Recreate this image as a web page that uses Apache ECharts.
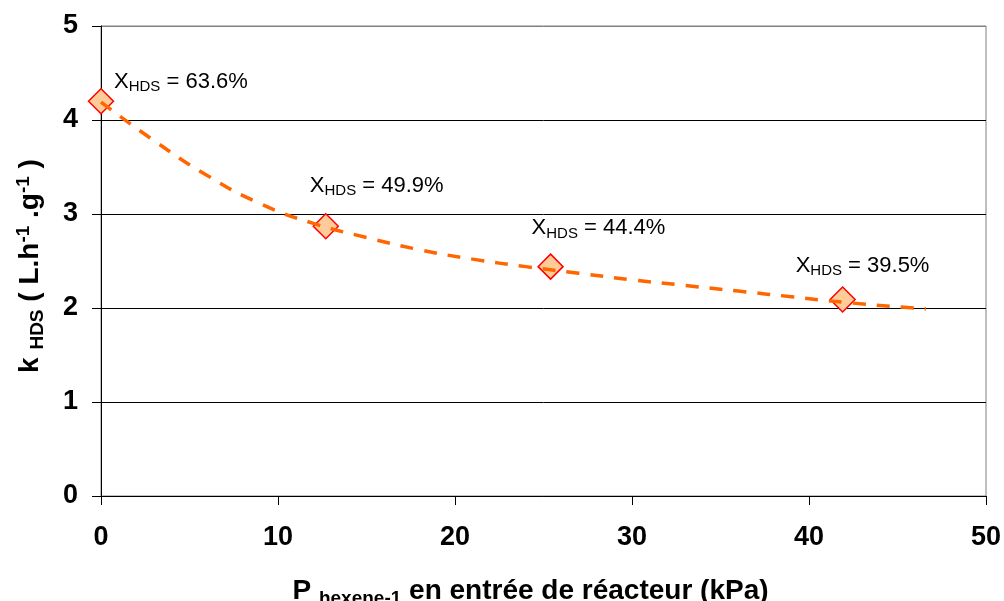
<!DOCTYPE html>
<html>
<head>
<meta charset="utf-8">
<script src="https://cdn.jsdelivr.net/npm/echarts@6/dist/echarts.min.js"></script>
<style>
html,body{margin:0;padding:0;background:#fff;}
#chart{width:1004px;height:601px;}
</style>
</head>
<body>
<div id="chart"></div>
<script>
// Measured points
const pressure = [0, 12.7, 25.4, 41.9];
const kHDS = [4.20, 2.87, 2.44, 2.09];
const conversionLabels = ['63.6%', '49.9%', '44.4%', '39.5%'];
// Trend line
const trendX = [0, 3, 6, 9, 12, 15, 18, 21, 24, 27, 30, 33, 36, 39, 42, 46.6];
const trendY = [4.19, 3.78, 3.41, 3.11, 2.90, 2.75, 2.62, 2.52, 2.44, 2.37, 2.30, 2.24, 2.18, 2.12, 2.06, 1.99];
// Tick labels
const xTicks = [0, 10, 20, 30, 40, 50];
const yTicks = [0, 1, 2, 3, 4, 5];

// label placement (layout only), relative to the top of each marker
const labelOffsets = [[13, -1], [-16, -22], [-19, -20], [-47, -15]];

const FONT = '"Liberation Sans", Arial, sans-serif';
const chart = echarts.init(document.getElementById('chart'));

const scatterData = pressure.map((x, i) => ({
  value: [x, kHDS[i]],
  label: {
    show: true,
    position: 'top',
    align: 'left',
    verticalAlign: 'middle',
    offset: labelOffsets[i],
    formatter: '{main|X}{sub|HDS}{main| = ' + conversionLabels[i] + '}'
  }
}));

chart.setOption({
  animation: false,
  backgroundColor: '#fff',
  grid: {left: 101, right: 18, top: 26, bottom: 105, show: true, borderColor: '#808080', borderWidth: 1, containLabel: false, outerBoundsMode: 'none'},
  xAxis: {
    type: 'value', min: 0, max: 50, interval: 10,
    axisLine: {show: true, onZero: false, lineStyle: {color: '#000', width: 1}},
    axisTick: {show: true, length: 9, lineStyle: {color: '#000'}},
    axisLabel: {
      margin: 28, color: '#000', fontFamily: FONT, fontWeight: 'bold', fontSize: 27,
      formatter: v => xTicks.includes(v) ? String(v) : ''
    },
    splitLine: {show: false},
    name: '{main|P }{sub|hexene-1}{main| en entrée de réacteur (kPa)}',
    nameLocation: 'middle', nameGap: 79,
    nameTextStyle: {
      color: '#000', fontFamily: FONT, fontWeight: 'bold', fontSize: 28,
      padding: [0, 26, 0, 0],
      rich: {
        main: {fontFamily: FONT, fontWeight: 'bold', fontSize: 28, color: '#000'},
        sub: {fontFamily: FONT, fontWeight: 'bold', fontSize: 19, color: '#000', verticalAlign: 'bottom', padding: [14, 0, 0, 0]}
      }
    }
  },
  yAxis: {
    type: 'value', min: 0, max: 5, interval: 1,
    axisLine: {show: true, onZero: false, lineStyle: {color: '#000', width: 1}},
    axisTick: {show: true, length: 9, lineStyle: {color: '#000'}},
    axisLabel: {
      margin: 23, color: '#000', fontFamily: FONT, fontWeight: 'bold', fontSize: 27,
      formatter: v => yTicks.includes(v) ? String(v) : ''
    },
    splitLine: {show: true, lineStyle: {color: ['#000', '#000', '#000', '#000', '#000', '#808080'], width: 1}},
    name: '{main|k }{sub|HDS}{main| ( L.h}{sup|-1}{main| .g}{sup|-1}{main| )}',
    nameLocation: 'middle', nameGap: 54, nameRotate: 90,
    nameTextStyle: {
      color: '#000', fontFamily: FONT, fontWeight: 'bold', fontSize: 28,
      padding: [0, 10, 0, 0],
      rich: {
        main: {fontFamily: FONT, fontWeight: 'bold', fontSize: 28, color: '#000'},
        sub: {fontFamily: FONT, fontWeight: 'bold', fontSize: 19, color: '#000', verticalAlign: 'bottom', padding: [12, 0, 0, 0]},
        sup: {fontFamily: FONT, fontWeight: 'bold', fontSize: 19, color: '#000', verticalAlign: 'top', padding: [0, 0, 14, 0]}
      }
    }
  },
  series: [
    {
      type: 'line',
      data: trendX.map((x, i) => [x, trendY[i]]),
      smooth: true,
      showSymbol: false,
      symbol: 'none',
      lineStyle: {color: '#FF6600', width: 3.5, type: [13, 11]},
      z: 3
    },
    {
      type: 'scatter',
      data: scatterData,
      symbol: 'diamond',
      symbolSize: 25,
      itemStyle: {color: '#FFCC99', borderColor: '#FF0000', borderWidth: 1.5, opacity: 1},
      label: {
        color: '#000', fontFamily: FONT, fontSize: 22, opacity: 1,
        rich: {
          main: {fontFamily: FONT, fontSize: 22, color: '#000'},
          sub: {fontFamily: FONT, fontSize: 15, color: '#000', verticalAlign: 'bottom', padding: [10, 0, 0, 0]}
        }
      },
      z: 2
    }
  ]
});
</script>
</body>
</html>
